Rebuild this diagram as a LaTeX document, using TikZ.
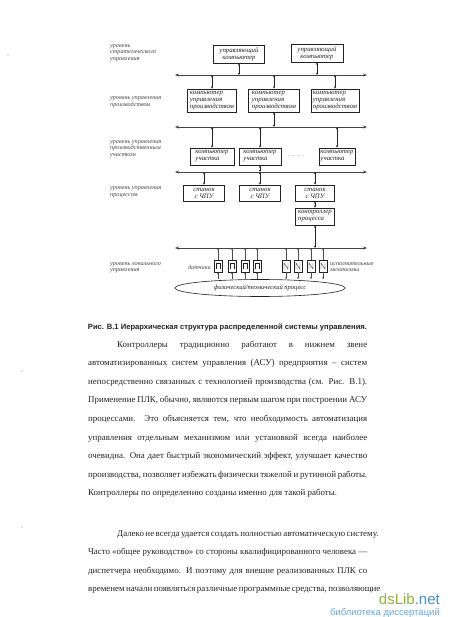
\documentclass[tikz,border=0pt]{standalone}
\usepackage{fontspec}
\setmainfont{Liberation Serif}
\newfontfamily\capfont{Liberation Sans}
\newfontfamily\wmfont{Liberation Sans}
\usetikzlibrary{arrows.meta,shapes.geometric}
\definecolor{dsgreen}{HTML}{8DB43C}
\definecolor{dsblue}{HTML}{4A8FCB}
\definecolor{ink}{HTML}{222222}
\begin{document}
\begin{tikzpicture}[x=1pt,y=-1pt,
  box/.style={draw=ink, line width=0.7pt, inner sep=1pt, text=ink,
    font=\itshape\fontsize{6.8}{7}\selectfont},
  lvl/.style={anchor=west, align=left, inner sep=0pt, text=ink!85,
    font=\itshape\fontsize{6.2}{6.4}\selectfont},
  link/.style={{Stealth[length=2.4pt,width=2.2pt]}-{Stealth[length=2.4pt,width=2.2pt]},
    line width=0.5pt, draw=ink},
  bus/.style={{Stealth[length=4pt,width=3pt]}-{Stealth[length=4pt,width=3pt]},
    line width=0.8pt, draw=ink!85},
  io/.style={draw=ink, line width=0.5pt, minimum width=8pt, minimum height=12pt, inner sep=0pt},
  sens/.style={io, path picture={\draw[line width=0.4pt]
    ([xshift=-2pt,yshift=-3pt]path picture bounding box.center) -- ++(0,6pt) -- ++(4pt,0) -- ++(0,-6pt);}},
  act/.style={io, path picture={\draw[line width=0.4pt]
    ([xshift=-2pt,yshift=-3pt]path picture bounding box.center) -- ++(0,6pt) -- ++(4pt,-6pt) -- ++(0,6pt);}},
  tiny/.style={-{Stealth[length=2pt,width=1.8pt]}, line width=0.4pt, draw=ink!80},
  bodyline/.style={anchor=base west, inner sep=0pt, text=ink, font=\fontsize{8.9}{10}\selectfont},
  speck/.style={fill=ink!60, draw=none, circle, inner sep=0pt, minimum size=1.2pt}
]
\fill[white] (0,0) rectangle (450,617);
\useasboundingbox (0,0) rectangle (450,617);

% scan specks
\node[speck] (sp1) at (8,55) {};
\node[speck] (sp2) at (22,371) {};
\node[speck] (sp3) at (22,527) {};

% buses
\coordinate (b1w) at (175,75);  \coordinate (b1e) at (367,75);
\coordinate (b2w) at (175,127); \coordinate (b2e) at (367,127);
\coordinate (b3w) at (175,172); \coordinate (b3e) at (367,172);
\coordinate (b4w) at (175,248); \coordinate (b4e) at (367,248);
\draw[bus] (b1w) -- (b1e);
\draw[bus] (b2w) -- (b2e);
\draw[bus] (b3w) -- (b3e);
\draw[bus] (b4w) -- (b4e);

% level labels
\node[lvl] (L1) at (110,53) {уровень\\стратегического\\управления};
\node[lvl] (L2) at (110,102) {уровень управления\\производством};
\node[lvl] (L3) at (110,149) {уровень управления\\производственным\\участком};
\node[lvl] (L4) at (110,192) {уровень управления\\процессом};
\node[lvl] (L5) at (110,268) {уровень локального\\управления};

% strategic level
\node[box, minimum width=51pt, minimum height=18pt, align=center] (uk1) at (239,54) {управляющий\\компьютер};
\node[box, minimum width=52pt, minimum height=18pt, align=center] (uk2) at (317,53) {управляющий\\компьютер};
\draw[link] (uk1.south) -- (uk1.south |- b1w);
\draw[link] (uk2.south) -- (uk2.south |- b1w);

% production level
\node[box, minimum width=49pt, minimum height=23pt, align=left] (kp1) at (212,100.5) {компьютер\\управления\\производством};
\node[box, minimum width=51pt, minimum height=23pt, align=left] (kp2) at (274,100.5) {компьютер\\управления\\производством};
\node[box, minimum width=48pt, minimum height=23pt, align=left] (kp3) at (335,100.5) {компьютер\\управления\\производством};
\draw[link] (kp1.north) -- (kp1.north |- b1w);
\draw[link] (kp2.north) -- (kp2.north |- b1w);
\draw[link] (kp3.north) -- (kp3.north |- b1w);
\draw[link] (kp2.south) -- (kp2.south |- b2w);

% area level
\node[box, minimum width=44pt, minimum height=17pt, align=left] (ku1) at (212,156.5) {компьютер\\участка};
\node[box, minimum width=42pt, minimum height=17pt, align=left] (ku2) at (260,156.5) {компьютер\\участка};
\node[inner sep=0pt, text=ink!70, font=\fontsize{7}{7}\selectfont] (dots) at (296,157) {·\,\,·\,\,·\,\,·};
\node[box, minimum width=36pt, minimum height=17pt, align=left] (ku3) at (337,156.5) {компьютер\\участка};
\draw[link] (ku1.north) -- (ku1.north |- b2w);
\draw[link] (ku2.north) -- (ku2.north |- b2w);
\draw[link] (ku3.north) -- (ku3.north |- b2w);
\draw[link] (ku2.south) -- (ku2.south |- b3w);

% process level
\node[box, minimum width=41pt, minimum height=16pt, align=center] (st1) at (204,193) {станок\\с ЧПУ};
\node[box, minimum width=41pt, minimum height=16pt, align=center] (st2) at (260,193) {станок\\с ЧПУ};
\node[box, minimum width=39pt, minimum height=16pt, align=center] (st3) at (315,193) {станок\\с ЧПУ};
\draw[link] (st1.north) -- (st1.north |- b3w);
\draw[link] (st2.north) -- (st2.north |- b3w);
\draw[link] (st3.north) -- (st3.north |- b3w);
\node[box, minimum width=39pt, minimum height=17pt, align=left] (ctrl) at (315,216.5) {контроллер\\процесса};
\draw[link] (st3.south) -- (ctrl.north);
\draw[link] (ctrl.south) -- (ctrl.south |- b4w);

% local level
\node[sens] (s1) at (218,266) {};
\node[sens] (s2) at (232,266) {};
\node[sens] (s3) at (245,266) {};
\node[sens] (s4) at (257,266) {};
\node[act] (a1) at (286,266) {};
\node[act] (a2) at (298,266) {};
\node[act] (a3) at (311,266) {};
\node[act] (a4) at (323,266) {};
\node[lvl, anchor=east] (dat) at (211,267) {датчики};
\node[lvl] (ism) at (330,267) {исполнительные\\механизмы};
\node[ellipse, draw=ink, line width=0.6pt, minimum width=170pt, minimum height=17pt, inner sep=0pt,
  text=ink, font=\itshape\fontsize{6.5}{7}\selectfont] (proc) at (260,288) {физический/технический процесс};
\foreach \n in {s1,s2,s3,s4,a1,a2,a3,a4}{
  \draw[tiny] (\n.north) -- (\n.north |- b4w);
}
\foreach \n in {s1,s2,s3,s4}{
  \draw[tiny] (\n.south |- proc.north) -- (\n.south);
}
\foreach \n in {a1,a2,a3,a4}{
  \draw[tiny] (\n.south) -- (\n.south |- proc.north);
}

% caption
\node[anchor=base, inner sep=0pt, text=ink] (cap) at (227.5,329)
  {\resizebox{279pt}{!}{\capfont\bfseries Рис. В.1 Иерархическая структура распределенной системы управления.}};

% body text
\node[bodyline] (t1) at (88,347) {\makebox[279pt][s]{\hspace*{29pt}Контроллеры традиционно работают в нижнем звене}};
\node[bodyline] (t2) at (88,365.6) {\makebox[279pt][s]{автоматизированных систем управления (АСУ) предприятия – систем}};
\node[bodyline] (t3) at (88,384.2) {\makebox[279pt][s]{непосредственно связанных с технологией производства (см. Рис. В.1).}};
\node[bodyline] (t4) at (88,402.8) {\makebox[279pt][s]{Применение ПЛК, обычно, являются первым шагом при построении АСУ}};
\node[bodyline] (t5) at (88,421.4) {\makebox[279pt][s]{процессами. Это объясняется тем, что необходимость автоматизация}};
\node[bodyline] (t6) at (88,440) {\makebox[279pt][s]{управления отдельным механизмом или установкой всегда наиболее}};
\node[bodyline] (t7) at (88,458.6) {\makebox[279pt][s]{очевидна. Она дает быстрый экономический эффект, улучшает качество}};
\node[bodyline] (t8) at (88,477.2) {\makebox[279pt][s]{производства, позволяет избежать физически тяжелой и рутинной работы.}};
\node[bodyline] (t9) at (88,495.8) {Контроллеры по определению созданы именно для такой работы.};
\node[bodyline] (t10) at (88,536) {\makebox[279pt][s]{\hspace*{29pt}Далеко не всегда удается создать полностью автоматическую систему.}};
\node[bodyline] (t11) at (88,554.6) {\makebox[279pt][s]{Часто «общее руководство» со стороны квалифицированного человека —}};
\node[bodyline] (t12) at (88,573.2) {\makebox[279pt][s]{диспетчера необходимо. И поэтому для внешне реализованных ПЛК со}};
\node[bodyline] (t13) at (88,591.8) {\makebox[279pt][s]{временем начали появляться различные программные средства, позволяющие}};

% watermark
\node[anchor=base east, inner sep=0pt, font=\wmfont\fontsize{15}{15}\selectfont] (wm1) at (440,604)
  {\textcolor{dsgreen}{dsLib}\textcolor{dsblue}{.net}};
\node[anchor=base east, inner sep=0pt, text=dsblue!80, font=\wmfont\fontsize{9.5}{10}\selectfont] (wm2) at (440,615)
  {библиотека диссертаций};
\end{tikzpicture}
\end{document}
